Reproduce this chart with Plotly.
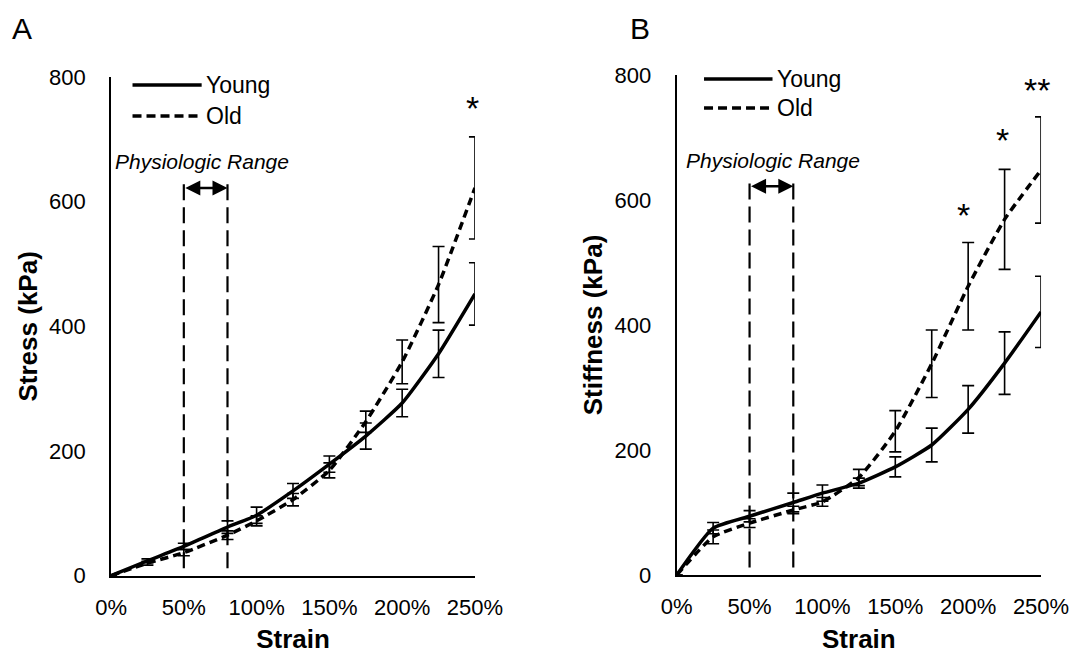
import plotly.graph_objects as go

# Strain levels (fraction) at which stress / stiffness were measured
strain = [0, 0.25, 0.5, 0.8, 1.0, 1.25, 1.5, 1.75, 2.0, 2.25, 2.5]

# Panel A: stress (kPa), mean and error
stress_young = [0, 24, 47, 78, 97, 136, 179, 224, 277, 356, 452]
stress_young_err = [0, 3, 5, 10, 13, 12, 13, 21, 22, 38, 50]
stress_old = [0, 20, 37, 65, 88, 122, 169, 247, 343, 467, 622]
stress_old_err = [0, 3, 5, 7, 8, 10, 12, 17, 35, 61, 82]

# Panel B: stiffness (kPa), mean and error
stiff_young = [0, 75, 94, 116, 131, 147, 173, 208, 265, 339, 421]
stiff_young_err = [0, 9, 9, 15, 13, 8, 16, 27, 38, 50, 57]
stiff_old = [0, 61, 83, 104, 117, 156, 230, 338, 462, 569, 648]
stiff_old_err = [0, 11, 7, 6, 7, 13, 33, 54, 70, 80, 85]

# Physiologic strain range
phys_range = [0.5, 0.8]

# Significance markers: (strain, height, text)
sig_a = [(2.48, 758, "*")]
sig_b = [(1.97, 584, "*"), (2.235, 704, "*"), (2.475, 784, "**")]

FONT = "Liberation Sans, Arial, sans-serif"

fig = go.Figure()


def add_pair(xa, ya, young, young_err, old, old_err):
    for vals, err, dash in [(young, young_err, "solid"), (old, old_err, "8px,5px")]:
        fig.add_trace(go.Scatter(
            x=strain, y=vals, xaxis=xa, yaxis=ya, mode="lines",
            line=dict(color="black", width=3.5, dash=dash, shape="spline", smoothing=0.5),
            error_y=dict(type="data", array=err, visible=True, color="black",
                         thickness=1.6, width=6),
            cliponaxis=False, showlegend=False, hoverinfo="skip",
        ))


add_pair("x", "y", stress_young, stress_young_err, stress_old, stress_old_err)
add_pair("x2", "y2", stiff_young, stiff_young_err, stiff_old, stiff_old_err)

axis_common = dict(
    range=[0, 2.5], tickvals=[0, 0.5, 1.0, 1.5, 2.0, 2.5], tickformat=".0%",
    showline=True, linecolor="black", linewidth=2, showgrid=False, zeroline=False,
    ticks="", tickfont=dict(family=FONT, size=22, color="black"),
    ticklabelstandoff=11, automargin=False,
    title=dict(text="<b>Strain</b>", font=dict(family=FONT, size=26, color="black"), standoff=14),
)
yaxis_common = dict(
    range=[0, 800], tickvals=[0, 200, 400, 600, 800],
    showline=True, linecolor="black", linewidth=2, showgrid=False, zeroline=False,
    ticks="", tickfont=dict(family=FONT, size=22, color="black"),
    ticklabelstandoff=19, automargin=False,
)

fig.update_layout(
    width=1076, height=654, margin=dict(l=0, r=0, t=0, b=0),
    plot_bgcolor="white", paper_bgcolor="white",
    xaxis=dict(domain=[0.1032, 0.4414], anchor="y", **axis_common),
    xaxis2=dict(domain=[0.6289, 0.9675], anchor="y2", **axis_common),
    yaxis=dict(domain=[0.1197, 0.8823], anchor="x",
               title=dict(text="<b>Stress (kPa)</b>", font=dict(family=FONT, size=26, color="black"), standoff=4),
               **yaxis_common),
    yaxis2=dict(domain=[0.1208, 0.8853], anchor="x2",
                title=dict(text="<b>Stiffness (kPa)</b>", font=dict(family=FONT, size=26, color="black"), standoff=4),
                **yaxis_common),
)

shapes = []
annotations = []

panels = [
    ("x", "y", 0.623, sig_a, (0.059, 0.249), (0.984, 0.922)),
    ("x2", "y2", 0.658, sig_b, (0.075, 0.263), (0.992, 0.934)),
]

for xa, ya, text_x, sigs, leg_x, leg_y in panels:
    # Physiologic range: dashed bounds with a double-headed arrow
    for xv in phys_range:
        shapes.append(dict(type="line", xref=xa, yref=ya, x0=xv, x1=xv, y0=12, y1=628,
                           line=dict(color="black", width=2.2, dash="16px,7px")))
    annotations.append(dict(xref=xa, yref=ya, axref=xa, ayref=ya,
                            x=phys_range[1], y=622, ax=phys_range[0], ay=622,
                            text="", showarrow=True, arrowhead=2, startarrowhead=2,
                            arrowside="end+start", arrowsize=1.2, arrowwidth=2.5,
                            arrowcolor="black"))
    annotations.append(dict(xref=xa, yref=ya, x=text_x, y=664, text="<i>Physiologic Range</i>",
                            showarrow=False, font=dict(family=FONT, size=21, color="black")))
    # Significance asterisks
    for sx, sy, st in sigs:
        annotations.append(dict(xref=xa, yref=ya, x=sx, y=sy, text=st, showarrow=False,
                                yshift=-5, font=dict(family=FONT, size=34, color="black")))

    # Legend drawn inside the plot area
    dom = xa + " domain"
    ydom = ya + " domain"
    for (label, dash), yy in zip([("Young", "solid"), ("Old", "9px,5px")], leg_y):
        shapes.append(dict(type="line", xref=dom, yref=ydom, x0=leg_x[0], x1=leg_x[1], y0=yy, y1=yy,
                           line=dict(color="black", width=3.5, dash=dash)))
        annotations.append(dict(xref=dom, yref=ydom, x=leg_x[1] + 0.007, y=yy, text=label,
                                xanchor="left", yanchor="middle", showarrow=False,
                                font=dict(family=FONT, size=23, color="black")))

# Panel letters
for letter, px in [("A", 0.0204), ("B", 0.5947)]:
    annotations.append(dict(xref="paper", yref="paper", x=px, y=0.957, text=letter,
                            xanchor="center", yanchor="middle", showarrow=False,
                            font=dict(family=FONT, size=30, color="black")))

fig.update_layout(shapes=shapes, annotations=annotations)
fig.write_html("out.html")
